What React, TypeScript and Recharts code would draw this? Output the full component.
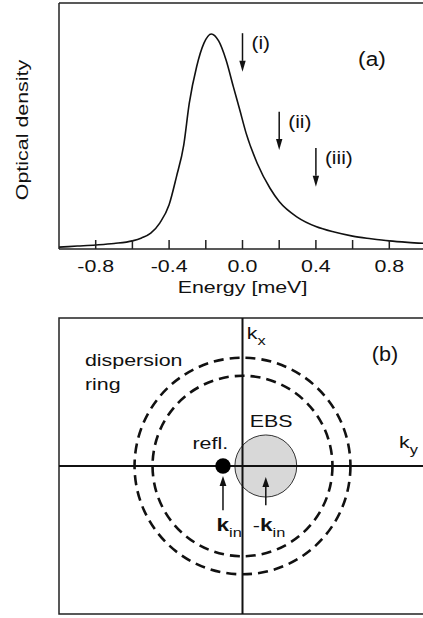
import React from "react";
import {
  LineChart, Line, XAxis, YAxis, Label, ReferenceLine, ReferenceDot, ReferenceArea,
  ScatterChart, Scatter,
} from "recharts";

// ---- panel (a): optical density vs energy ----
const energy = [-1.0, -0.9, -0.8, -0.7, -0.6, -0.55, -0.5, -0.45, -0.4, -0.36, -0.32, -0.29, -0.25, -0.21, -0.17, -0.13, -0.09, -0.05, -0.015, 0.02, 0.08, 0.15, 0.2, 0.3, 0.4, 0.5, 0.6, 0.7, 0.8, 0.9, 1.0];
const density = [0.05, 0.08, 0.11, 0.15, 0.22, 0.3, 0.43, 0.71, 1.2, 1.96, 2.83, 3.96, 4.95, 5.59, 5.84, 5.65, 5.14, 4.41, 3.78, 3.14, 2.33, 1.65, 1.29, 0.86, 0.61, 0.46, 0.35, 0.28, 0.22, 0.18, 0.15];
const energyTicks = [-0.8, -0.6, -0.4, -0.2, 0, 0.2, 0.4, 0.6, 0.8];
const energyLabels = [-0.8, -0.4, 0, 0.4, 0.8];
const densityTicks = [1, 2, 3, 4, 5, 6];
const energyRange = [-1, 1];
const densityRange = [0, 6.68];
const probes = [
  { label: "(i)", e: 0.0, from: 5.86, to: 4.81 },
  { label: "(ii)", e: 0.2, from: 3.73, to: 2.69 },
  { label: "(iii)", e: 0.4, from: 2.74, to: 1.69 },
];

// ---- panel (b): k-space sketch ----
const kxRange = [-2.04, 2.04];
const kyRange = [-1.64, 1.64];
const ringRadii = [1.2, 1.0];
const ebsCenter = 0.259;
const ebsRadius = 0.344;
const refl = [{ kx: -0.217, ky: 0 }];
const kArrows = [
  { kx: -0.217, from: -0.49, to: -0.11 },
  { kx: 0.259, from: -0.435, to: -0.122 },
];
const notes = [
  { kx: -1.752, ky: 1.11, pre: "", main: "dispersion", sub: "", bold: false },
  { kx: -1.752, ky: 0.845, pre: "", main: "ring", sub: "", bold: false },
  { kx: 0.081, ky: 0.437, pre: "", main: "EBS", sub: "", bold: false },
  { kx: -0.556, ky: 0.186, pre: "", main: "refl.", sub: "", bold: false },
  { kx: 0.048, ky: 1.408, pre: "", main: "k", sub: "x", bold: false },
  { kx: 1.74, ky: 0.197, pre: "", main: "k", sub: "y", bold: false },
  { kx: -0.289, ky: -0.722, pre: "", main: "k", sub: "in", bold: true },
  { kx: 0.114, ky: -0.722, pre: "-", main: "k", sub: "in", bold: true },
];

const spectrum = energy.map((e, i) => ({ e, od: density[i] }));

const FONT = "'Liberation Sans', Arial, Helvetica, sans-serif";
const INK = "#111";

// the figure's lettering is wide, so stretch it along the baseline
const Stretch = ({ x, y, children, size = 17, sx = 1.26, anchor = "start", rot = 0 }: any) => (
  <text
    transform={`translate(${x},${y}) rotate(${rot}) scale(${sx},1)`}
    fontSize={size}
    fontFamily={FONT}
    textAnchor={anchor}
    fill={INK}
  >
    {children}
  </text>
);

function Arrow({ x1, y1, x2, y2, head = 11, half = 3.2 }: any) {
  const dx = x2 - x1;
  const dy = y2 - y1;
  const len = Math.hypot(dx, dy) || 1;
  const ux = dx / len;
  const uy = dy / len;
  const bx = x2 - ux * head;
  const by = y2 - uy * head;
  const pts = `${x2},${y2} ${bx - uy * half},${by + ux * half} ${bx + uy * half},${by - ux * half}`;
  return (
    <g>
      <line x1={x1} y1={y1} x2={bx} y2={by} stroke={INK} strokeWidth={1.5} />
      <polygon points={pts} fill={INK} />
    </g>
  );
}

const EnergyTick = ({ x, y, payload }: any) => {
  const v = payload.value;
  if (!energyLabels.some((l) => Math.abs(l - v) < 1e-6)) return <g />;
  return <Stretch x={x} y={y + 32} anchor="middle">{v.toFixed(1)}</Stretch>;
};

const frameAxis = { stroke: "#222", strokeWidth: 1.5, tickSize: -9, interval: 0 as const, allowDataOverflow: true };

function SpectrumPanel() {
  return (
    <LineChart width={440} height={300} data={spectrum} margin={{ top: 2, right: 13, bottom: 0, left: 0 }}>
      <XAxis dataKey="e" type="number" domain={energyRange} ticks={energyTicks} height={51} tickMargin={0} tick={<EnergyTick />} {...frameAxis}>
        <Label content={({ viewBox }: any) => (
          <Stretch x={viewBox.x + viewBox.width / 2} y={viewBox.y + 44} anchor="middle">Energy [meV]</Stretch>
        )} />
      </XAxis>
      <XAxis xAxisId="top" orientation="top" type="number" domain={energyRange} ticks={energyTicks} height={1} tick={false} {...frameAxis} />
      <YAxis type="number" domain={densityRange} ticks={densityTicks} width={59} tick={false} {...frameAxis}>
        <Label content={({ viewBox }: any) => (
          <Stretch x={viewBox.x + 28} y={viewBox.y + viewBox.height / 2 + 4} anchor="middle" rot={-90}>Optical density</Stretch>
        )} />
      </YAxis>
      <YAxis yAxisId="right" orientation="right" type="number" domain={densityRange} ticks={densityTicks} width={1} tick={false} {...frameAxis} />
      <Line dataKey="od" type="monotone" stroke={INK} strokeWidth={1.6} dot={false} isAnimationActive={false} />
      {probes.map((p) => (
        <ReferenceLine
          key={p.label}
          segment={[{ x: p.e, y: p.from }, { x: p.e, y: p.to }]}
          shape={(s: any) => (
            <g>
              <Arrow x1={s.x1} y1={s.y1} x2={s.x2} y2={s.y2} />
              <Stretch x={s.x1 + 9} y={s.y1 + 16} size={19} sx={1.1}>{p.label}</Stretch>
            </g>
          )}
        />
      ))}
      <ReferenceDot x={0.63} y={4.97} r={0} shape={(s: any) => (
        <Stretch x={s.cx} y={s.cy} size={21} sx={1.08}>(a)</Stretch>
      )} />
    </LineChart>
  );
}

function KSpacePanel() {
  return (
    <ScatterChart width={440} height={310} margin={{ top: 8, right: 14, bottom: 6, left: 59 }}>
      <XAxis type="number" dataKey="kx" domain={kxRange} hide allowDataOverflow />
      <YAxis type="number" dataKey="ky" domain={kyRange} hide allowDataOverflow />
      <ReferenceArea x1={kxRange[0]} x2={kxRange[1]} y1={kyRange[0]} y2={kyRange[1]} fill="none" fillOpacity={0} stroke="#222" strokeWidth={1.5} />
      {ringRadii.map((r) => (
        <ReferenceArea key={r} x1={-r} x2={r} y1={-r} y2={r} shape={(s: any) => (
          <ellipse cx={s.x + s.width / 2} cy={s.y + s.height / 2} rx={Math.abs(s.width) / 2} ry={Math.abs(s.height) / 2}
            fill="none" stroke={INK} strokeWidth={2.6} strokeDasharray="10 6" />
        )} />
      ))}
      <ReferenceArea x1={ebsCenter - ebsRadius} x2={ebsCenter + ebsRadius} y1={-ebsRadius} y2={ebsRadius} shape={(s: any) => (
        <ellipse cx={s.x + s.width / 2} cy={s.y + s.height / 2} rx={Math.abs(s.width) / 2} ry={Math.abs(s.height) / 2}
          fill="#d8d8d8" stroke="#333" strokeWidth={1} />
      )} />
      <ReferenceLine x={0} stroke={INK} strokeWidth={2} />
      <ReferenceLine y={0} stroke={INK} strokeWidth={2} />
      <Scatter data={refl} isAnimationActive={false} shape={(s: any) => <circle cx={s.cx} cy={s.cy} r={7.7} fill="#000" />} />
      {kArrows.map((a) => (
        <ReferenceLine key={a.kx} segment={[{ x: a.kx, y: a.from }, { x: a.kx, y: a.to }]}
          shape={(s: any) => <Arrow x1={s.x1} y1={s.y1} x2={s.x2} y2={s.y2} head={10} half={3.4} />} />
      ))}
      {notes.map((n, i) => (
        <ReferenceDot key={i} x={n.kx} y={n.ky} r={0} shape={(s: any) => (
          <Stretch x={s.cx} y={s.cy}>
            {n.pre}
            <tspan fontWeight={n.bold ? "bold" : "normal"} fontSize={n.bold ? 18 : 17}>{n.main}</tspan>
            {n.sub ? <tspan dy={6} fontSize={13}>{n.sub}</tspan> : null}
          </Stretch>
        )} />
      ))}
      <ReferenceDot x={1.437} y={1.159} r={0} shape={(s: any) => (
        <Stretch x={s.cx} y={s.cy} size={20} sx={1.08}>(b)</Stretch>
      )} />
    </ScatterChart>
  );
}

export default function App() {
  return (
    <div style={{ position: "absolute", left: 0, top: 0, width: 423, height: 618, overflow: "hidden", background: "#fff" }}>
      <div style={{ position: "absolute", left: 0, top: 0 }}>
        <SpectrumPanel />
      </div>
      <div style={{ position: "absolute", left: 0, top: 310 }}>
        <KSpacePanel />
      </div>
    </div>
  );
}
